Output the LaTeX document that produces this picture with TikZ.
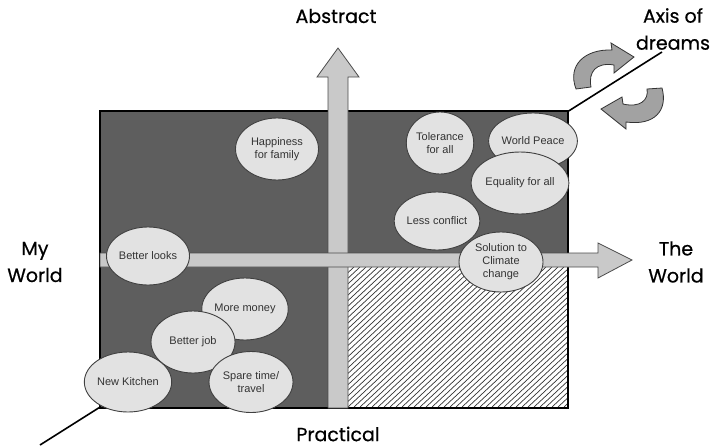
\documentclass[tikz,border=0pt]{standalone}
\usepackage{fontspec}
\setmainfont{Liberation Sans}
\newfontfamily\labelfont{Poppins}[FakeBold=0.6]
\usetikzlibrary{shapes.geometric}
\definecolor{boxgray}{HTML}{5E5E5E}
\definecolor{ellgray}{HTML}{E2E2E2}
\definecolor{arrgray}{HTML}{C9C9C9}
\definecolor{curlgray}{HTML}{A2A2A2}
\tikzset{
  idea/.style={ellipse, draw=black!75, line width=0.9pt, fill=ellgray, inner sep=0pt,
    align=center, font=\fontsize{11}{13}\selectfont, text=black!80},
  biglabel/.style={font=\labelfont\fontsize{19}{27}\selectfont, align=center, text=black},
  axisarrow/.style={fill=arrgray, draw=black!70, line width=0.8pt},
  curl/.style={fill=curlgray, draw=black!80, line width=0.8pt},
}
\begin{document}
\begin{tikzpicture}[x=1pt,y=-1pt]
\useasboundingbox (0,0) rectangle (719,447);
% axis of dreams line
\coordinate (dA) at (40,445);
\coordinate (dB) at (662,52);
\draw[line width=1.6pt] (dA) -- (dB);
% main box
\filldraw[fill=boxgray, draw=black, line width=1.2pt] (100,111) rectangle (568,408);
% hatched quadrant
\fill[white] (348,267) rectangle (567,407);
\begin{scope}
\clip (348,267) rectangle (567,407);
\foreach \k in {0,6,...,380} {
  \draw[line width=0.7pt, black!80] (348+\k-150,407) -- (348+\k,267);
}
\end{scope}
\draw[black, line width=1.2pt] (348,408) -- (568,408) -- (568,267);
% vertical arrow
\filldraw[axisarrow] (328,408) -- (328,77) -- (317,77) -- (338,48) -- (359,77) -- (348,77) -- (348,408) -- cycle;
% horizontal arrow
\filldraw[axisarrow] (100,253) -- (598,253) -- (598,243) -- (632,260) -- (598,278) -- (598,267) -- (100,267) -- cycle;
% curved arrows
\filldraw[curl] (576,89) .. controls (567,65) and (585,49) .. (612,50) -- (611,43) -- (634,57) -- (614,73) -- (614,65) .. controls (596,62) and (588,72) .. (591,87) -- cycle;
\filldraw[curl] (662,88) .. controls (668,110) and (655,126) .. (626,122) -- (626,129) -- (601,109) -- (622,97) -- (623,104) .. controls (640,108) and (649,100) .. (647,89) -- cycle;
% ideas
\node[idea, minimum width=83pt, minimum height=62pt] (happy) at (277,149) {Happiness\\for family};
\node[idea, minimum width=64pt, minimum height=62pt] (tol) at (440,143) {Tolerance\\for all};
\node[idea, minimum width=84pt, minimum height=56pt] (peace) at (533,141) {World Peace};
\node[idea, minimum width=84pt, minimum height=62pt] (equal) at (520,183) {Equality for all};
\node[idea, minimum width=79pt, minimum height=58pt] (less) at (437,221) {Less conflict};
\node[idea, minimum width=84pt, minimum height=60pt] (climate) at (501,262) {Solution to\\Climate\\change};
\node[idea, minimum width=83pt, minimum height=58pt] (looks) at (148,256) {Better looks};
\node[idea, minimum width=84pt, minimum height=62pt] (money) at (245,309) {More money};
\node[idea, minimum width=84pt, minimum height=62pt] (job) at (193,342) {Better job};
\node[idea, minimum width=84pt, minimum height=61pt] (spare) at (251,382) {Spare time/\\travel};
\node[idea, minimum width=84pt, minimum height=60pt] (kitchen) at (128,382) {New Kitchen};
% labels
\node[biglabel] (abs) at (336,16) {Abstract};
\node[biglabel] (dreams) at (673,29) {Axis of\\dreams};
\node[biglabel] (my) at (35,262) {My\\World};
\node[biglabel] (world) at (676,262) {The\\World};
\node[biglabel, inner sep=1pt] (prac) at (338,434) {Practical};
\end{tikzpicture}
\end{document}
